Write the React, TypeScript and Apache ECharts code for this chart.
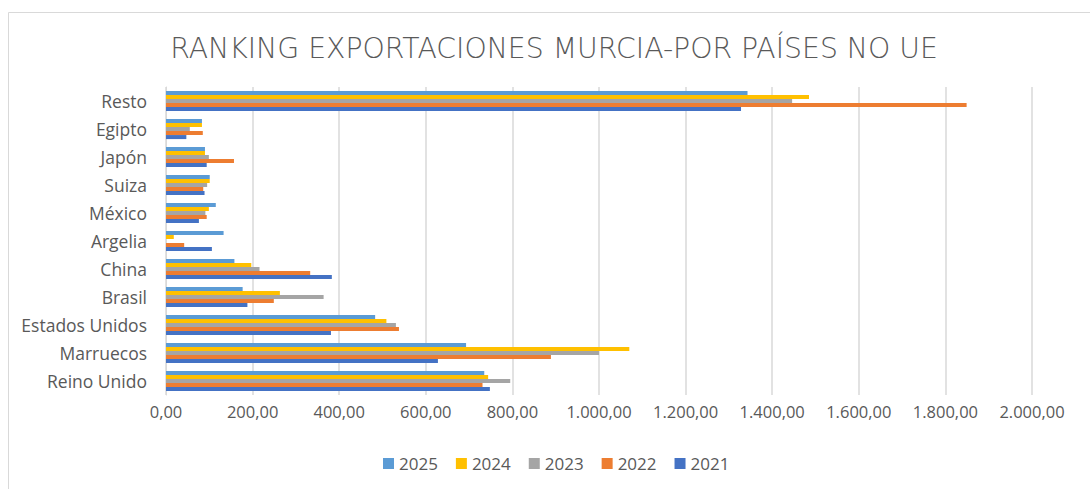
import React, { useEffect, useRef } from "react";
import * as echarts from "echarts";

const categories = ["Resto", "Egipto", "Japón", "Suiza", "México", "Argelia", "China", "Brasil", "Estados Unidos", "Marruecos", "Reino Unido"];
const years = ["2025", "2024", "2023", "2022", "2021"];
const v2025 = [1343, 83, 90, 101, 115, 133, 158, 177, 483, 693, 735];
const v2024 = [1485, 83, 90, 101, 99, 18, 197, 263, 509, 1070, 744];
const v2023 = [1446, 55, 99, 95, 91, 0, 216, 364, 531, 1000, 795];
const v2022 = [1849, 85, 157, 86, 94, 42, 333, 249, 538, 889, 731];
const v2021 = [1328, 47, 94, 89, 76, 106, 383, 188, 381, 628, 748];
const colors = ["#5B9BD5", "#FFC000", "#A5A5A5", "#ED7D31", "#4472C4"];
const seriesValues = [v2025, v2024, v2023, v2022, v2021];

function fmt(v: number): string {
  const fixed = v.toFixed(2);
  const [intPart, dec] = fixed.split(".");
  const withSep = intPart.replace(/\B(?=(\d{3})+(?!\d))/g, ".");
  return withSep + "," + dec;
}

export default function App() {
  const ref = useRef<HTMLDivElement>(null);
  useEffect(() => {
    if (!ref.current) return;
    const chart = echarts.init(ref.current, undefined, { renderer: "svg" });
    chart.setOption({
      animation: false,
      backgroundColor: "#ffffff",
      title: {
        text: "RANKING EXPORTACIONES MURCIA-POR PAÍSES NO UE",
        left: 549,
        textAlign: "center",
        top: 29,
        textStyle: {
          fontFamily: "DejaVu Sans",
          fontWeight: 200,
          fontSize: 28.3,
          color: "#595959",
        },
      },
      graphic: [
        {
          type: "rect",
          shape: { x: 8.5, y: 12.5, width: 1100, height: 500 },
          style: { fill: "none", stroke: "#d9d9d9", lineWidth: 1 },
          silent: true,
        },
      ],
      legend: {
        data: years,
        bottom: 12,
        left: 378,
        itemWidth: 11,
        itemHeight: 11,
        itemGap: 18,
        icon: "rect",
        textStyle: { fontFamily: "Open Sans", fontSize: 17, color: "#595959" },
      },
      grid: { left: 166, right: 58, top: 87, bottom: 94, containLabel: false },
      xAxis: {
        type: "value",
        min: 0,
        max: 2000,
        interval: 200,
        axisLine: { show: false },
        axisTick: { show: false },
        splitLine: { lineStyle: { color: "#d9d9d9", width: 1.5 } },
        axisLabel: {
          formatter: (v: number) => fmt(v),
          fontFamily: "Open Sans",
          fontSize: 16.5,
          color: "#595959",
          margin: 8,
        },
      },
      yAxis: {
        type: "category",
        data: categories,
        inverse: true,
        axisLine: { show: true, lineStyle: { color: "#d9d9d9" } },
        axisTick: { show: false },
        axisLabel: {
          fontFamily: "Open Sans",
          fontSize: 17.5,
          color: "#595959",
          margin: 19,
        },
      },
      series: years.map((y, i) => ({
        name: y,
        type: "bar",
        data: seriesValues[i],
        itemStyle: { color: colors[i] },
        barGap: "0%",
        barCategoryGap: "28%",
      })),
    });
    return () => chart.dispose();
  }, []);
  return <div ref={ref} style={{ width: 1090, height: 489, position: "absolute", left: 0, top: 0 }} />;
}
